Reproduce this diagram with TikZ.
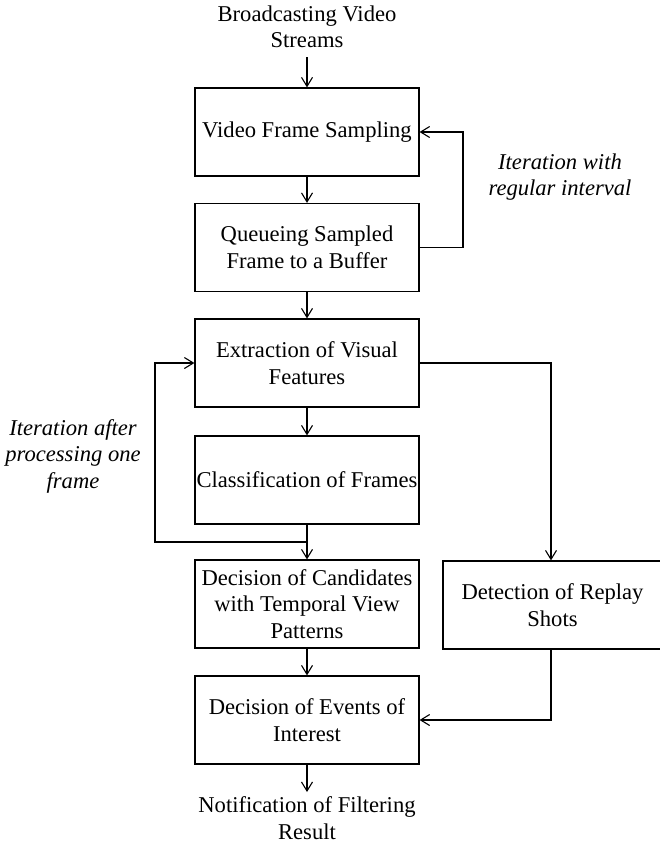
\documentclass[tikz,border=0pt]{standalone}
\usepackage{fontspec}
\setmainfont{Liberation Serif}
\usetikzlibrary{arrows.meta,calc}
\begin{document}
\begin{tikzpicture}[x=1pt,y=-1pt,
  every node/.style={font=\fontsize{22.6}{26.5}\selectfont, align=center, inner sep=0pt},
  procbox/.style={draw, line width=1.2pt, minimum width=224pt, minimum height=88pt},
  sidebox/.style={draw, line width=1.2pt, minimum width=219pt, minimum height=88pt},
  note/.style={font=\fontsize{22.6}{26.5}\selectfont\itshape},
  flow/.style={line width=1.2pt, -{Straight Barb[length=9pt,width=11pt,line width=1.1pt]}},
  link/.style={line width=1.2pt}
]
\useasboundingbox (0,0) rectangle (660,846);

% input and output labels
\node (src) at (307,27) {Broadcasting Video\\Streams};
\node (res) at (307,818) {Notification of Filtering\\Result};

% main processing chain
\node[procbox] (vfs)  at (307,132) {Video Frame Sampling};
\node[procbox] (que)  at (307,247.5) {Queueing Sampled\\Frame to a Buffer};
\node[procbox] (ext)  at (307,363) {Extraction of Visual\\Features};
\node[procbox] (cls)  at (307,480) {Classification of Frames};
\node[procbox] (cand) at (307,604) {Decision of Candidates\\with Temporal View\\Patterns};
\node[procbox] (evt)  at (307,720) {Decision of Events of\\Interest};

% replay branch (its right side runs to the page edge)
\node[sidebox] (det) at (552.5,605) {Detection of Replay\\Shots};

% loop annotations
\node[note] (lbl1) at (560,177) {Iteration with\\regular interval};
\node[note] (lbl2) at (73,456) {Iteration after\\processing one\\frame};

% helper points
\coordinate (srcend) at (307,57);
\coordinate (resend) at (307,792);
\coordinate (qr) at (463,247.5);
\coordinate (vr) at (463,132);
\coordinate (jn) at (307,542);
\coordinate (jl) at (155,542);
\coordinate (el) at (155,363);
\coordinate (br) at (551,363);
\coordinate (bd) at (551,561);
\coordinate (ds) at (551,649);
\coordinate (dr) at (551,720);

% straight flow
\draw[flow] (srcend) -- (vfs.north);
\draw[flow] (vfs) -- (que);
\draw[flow] (que) -- (ext);
\draw[flow] (ext) -- (cls);
\draw[flow] (cls) -- (cand);
\draw[flow] (cand) -- (evt);
\draw[flow] (evt.south) -- (resend);

% sampling loop
\draw[flow] (que.east) -- (qr) -- (vr) -- (vfs.east);

% per-frame loop
\draw[flow] (jn) -- (jl) -- (el) -- (ext.west);

% replay detection branch
\draw[flow] (ext.east) -- (br) -- (det.north -| br);
\draw[flow] (det.south -| ds) -- (dr) -- (evt.east);
\end{tikzpicture}
\end{document}
